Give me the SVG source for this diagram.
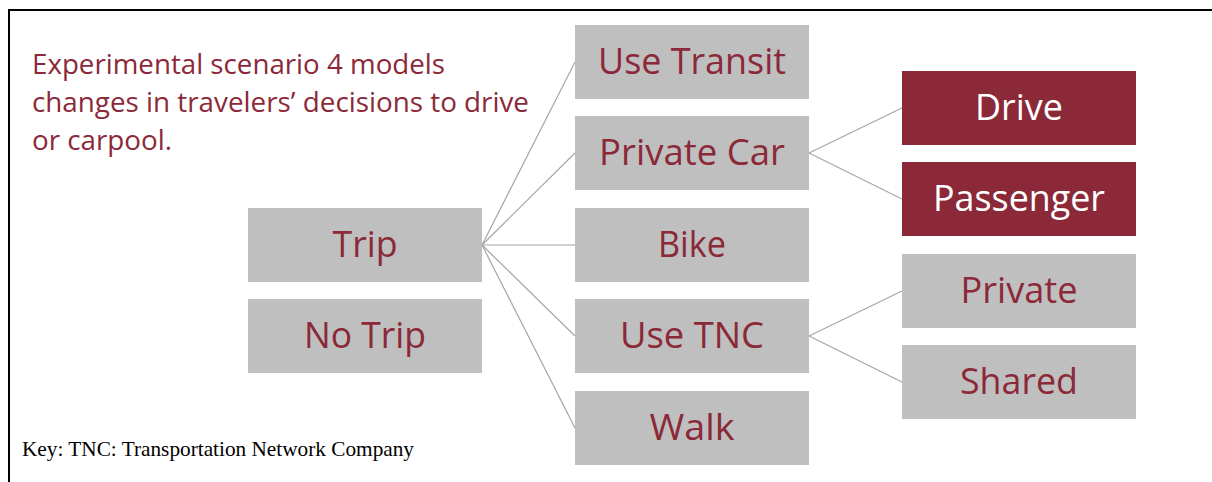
<svg xmlns="http://www.w3.org/2000/svg" width="1212" height="482" viewBox="0 0 1212 482">
<style>
.g{fill:#BFBFBF}
.r{fill:#8B2939}
.t{font-family:"Open Sans","Noto Sans",sans-serif;font-size:37px;text-anchor:middle;fill:#8B2939}
.w{fill:#FFFFFF}
.title{font-family:"Open Sans","Noto Sans",sans-serif;font-size:26.5px;fill:#8B2939}
.key{font-family:"Liberation Serif",serif;font-size:21px;fill:#000}
.c{stroke:#A6A6A6;stroke-width:1.2;fill:none}
</style>
<rect x="0" y="0" width="1212" height="482" fill="#FFFFFF"/>
<path d="M9,482 V10 H1212" stroke="#000" stroke-width="2" fill="none"/>
<g id="title">
<text class="title" x="32" y="74" textLength="413" lengthAdjust="spacingAndGlyphs">Experimental scenario 4 models</text>
<text class="title" x="32" y="112" textLength="497" lengthAdjust="spacingAndGlyphs">changes in travelers’ decisions to drive</text>
<text class="title" x="32" y="150" textLength="140" lengthAdjust="spacingAndGlyphs">or carpool.</text>
</g>
<g id="connectors">
<line class="c" x1="482" y1="245" x2="575" y2="62"/>
<line class="c" x1="482" y1="245" x2="575" y2="153"/>
<line class="c" x1="482" y1="245" x2="575" y2="245"/>
<line class="c" x1="482" y1="245" x2="575" y2="336"/>
<line class="c" x1="482" y1="245" x2="575" y2="428"/>
<line class="c" x1="809" y1="153" x2="902" y2="108"/>
<line class="c" x1="809" y1="153" x2="902" y2="199"/>
<line class="c" x1="809" y1="336" x2="902" y2="291"/>
<line class="c" x1="809" y1="336" x2="902" y2="382"/>
</g>
<g id="trip"><rect class="g" x="248" y="208" width="234" height="74"/><text class="t" x="365" y="257" textLength="65" lengthAdjust="spacingAndGlyphs">Trip</text></g>
<g id="notrip"><rect class="g" x="248" y="299" width="234" height="74"/><text class="t" x="365" y="348" textLength="122" lengthAdjust="spacingAndGlyphs">No Trip</text></g>
<g id="transit"><rect class="g" x="575" y="25" width="234" height="74"/><text class="t" x="692" y="74" textLength="188" lengthAdjust="spacingAndGlyphs">Use Transit</text></g>
<g id="privatecar"><rect class="g" x="575" y="116" width="234" height="74"/><text class="t" x="692" y="165" textLength="186" lengthAdjust="spacingAndGlyphs">Private Car</text></g>
<g id="bike"><rect class="g" x="575" y="208" width="234" height="74"/><text class="t" x="692" y="257" textLength="68" lengthAdjust="spacingAndGlyphs">Bike</text></g>
<g id="tnc"><rect class="g" x="575" y="299" width="234" height="74"/><text class="t" x="692" y="348" textLength="144" lengthAdjust="spacingAndGlyphs">Use TNC</text></g>
<g id="walk"><rect class="g" x="575" y="391" width="234" height="74"/><text class="t" x="692" y="440" textLength="85" lengthAdjust="spacingAndGlyphs">Walk</text></g>
<g id="drive"><rect class="r" x="902" y="71" width="234" height="74"/><text class="t w" x="1019" y="120" textLength="88" lengthAdjust="spacingAndGlyphs">Drive</text></g>
<g id="passenger"><rect class="r" x="902" y="162" width="234" height="74"/><text class="t w" x="1019" y="211" textLength="172" lengthAdjust="spacingAndGlyphs">Passenger</text></g>
<g id="private"><rect class="g" x="902" y="254" width="234" height="74"/><text class="t" x="1019" y="303" textLength="117" lengthAdjust="spacingAndGlyphs">Private</text></g>
<g id="shared"><rect class="g" x="902" y="345" width="234" height="74"/><text class="t" x="1019" y="394" textLength="118" lengthAdjust="spacingAndGlyphs">Shared</text></g>
<g id="key"><text class="key" x="22" y="456" textLength="392" lengthAdjust="spacingAndGlyphs">Key: TNC: Transportation Network Company</text></g>
</svg>
